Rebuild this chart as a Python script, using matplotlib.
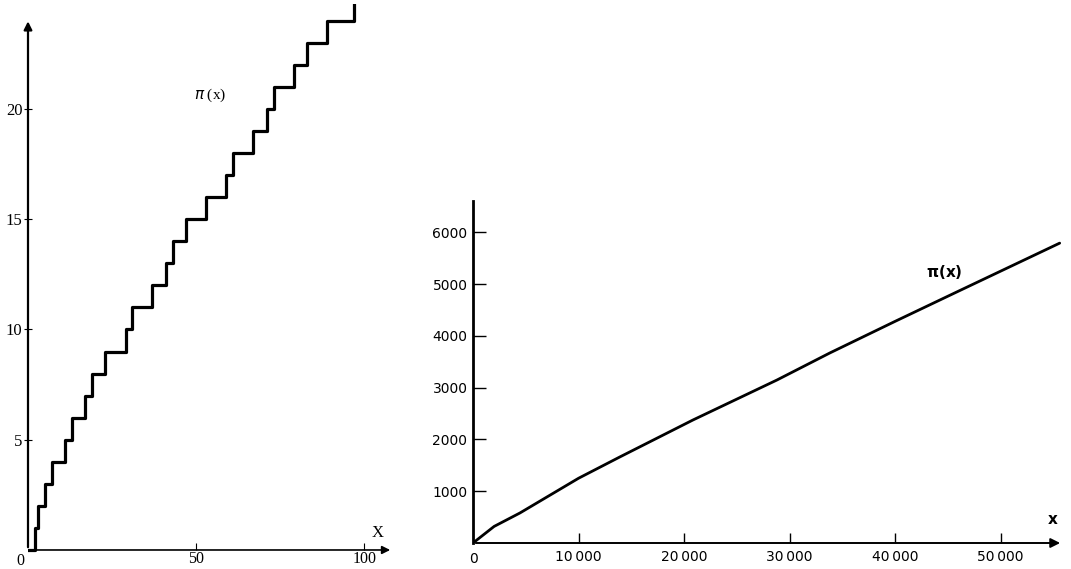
import matplotlib.pyplot as plt

# left panel: primes below 100 where pi(x) jumps
primes = [2, 3, 5, 7, 11, 13, 17, 19, 23, 29, 31, 37, 41, 43, 47,
          53, 59, 61, 67, 71, 73, 79, 83, 89, 97]
x_end = 97.5

# right panel: pi(x)
big_x = [0, 2000, 4450, 10000, 13900, 20830, 28800, 33800, 40000, 45830, 55590]
big_y = [0, 320, 580, 1250, 1660, 2374, 3147, 3668, 4280, 4846, 5790]

left_yticks = [5, 10, 15, 20]
left_xticks = [50, 100]
right_yticks = [1000, 2000, 3000, 4000, 5000, 6000]
right_xticks = [10000, 20000, 30000, 40000, 50000]

fig = plt.figure(figsize=(10.71, 5.69), dpi=100)

serif = ["Liberation Serif", "DejaVu Serif"]

# ---- left (22.05 px per unit, bottom at y=-0.3)
ax1 = fig.add_axes([28 / 1071, 12.4 / 569, 370 / 1071, 552.4 / 569])
ax1.set_xlim(0, 110)
ax1.set_ylim(-0.3, 24.75)
for s in ax1.spines.values():
    s.set_visible(False)
ax1.spines["bottom"].set_position(("data", 0))

xs = [0] + primes + [x_end]
ys = list(range(len(primes) + 1)) + [len(primes)]
ax1.step(xs, ys, where="post", color="black", lw=2.3)

ax1.annotate("", xy=(108.5, 0), xytext=(0, 0),
             arrowprops=dict(arrowstyle="-|>", color="black", lw=1.2, mutation_scale=12),
             annotation_clip=False)
ax1.annotate("", xy=(0, 24.1), xytext=(0, 0),
             arrowprops=dict(arrowstyle="-|>", color="black", lw=1.6, mutation_scale=12),
             annotation_clip=False)

ax1.set_xticks(left_xticks)
ax1.set_yticks(left_yticks)
ax1.set_xticklabels([str(v) for v in left_xticks], family=serif, fontsize=11.5)
ax1.set_yticklabels([str(v) for v in left_yticks], family=serif, fontsize=12)
ax1.tick_params(axis="x", direction="in", length=5, width=0.8, pad=1)
ax1.tick_params(axis="y", direction="inout", length=6, width=0.8, pad=1)
ax1.text(-2.4, -0.5, "0", family=serif, fontsize=11.5, ha="center", va="center")
ax1.text(104, 0.75, "X", family=serif, fontsize=12, ha="center", va="center")
ax1.text(54, 20.6, r"$\pi$ (x)", family=serif, fontsize=11, ha="center", va="center")

# ---- right
ax2 = fig.add_axes([473 / 1071, 26 / 569, 591 / 1071, 347 / 569])
ax2.set_xlim(0, 56000)
ax2.set_ylim(0, 6700)
for s in ax2.spines.values():
    s.set_visible(False)

ax2.plot(big_x, big_y, color="black", lw=2.0, solid_capstyle="round")

ax2.annotate("", xy=(55900, 0), xytext=(0, 0),
             arrowprops=dict(arrowstyle="-|>", color="black", lw=1.4, mutation_scale=14),
             annotation_clip=False)
ax2.plot([0, 0], [0, 6600], color="black", lw=2.0, clip_on=False)

ax2.set_xticks(right_xticks)
ax2.set_yticks(right_yticks)
ax2.set_xticklabels([f"{v // 1000}\u2009000" for v in right_xticks], fontsize=10)
ax2.set_yticklabels([str(v) for v in right_yticks], fontsize=10)
ax2.tick_params(axis="x", direction="in", length=7, width=1.0, pad=5)
ax2.tick_params(axis="y", direction="in", length=9, width=1.0, pad=4)
ax2.text(0, -170, "0", fontsize=10, ha="center", va="top")
ax2.text(54900, 300, "x", fontsize=11, fontweight="bold", ha="center", va="bottom")
ax2.text(44700, 5230, r"$\mathbf{\pi}$(x)", fontsize=11, fontweight="bold", ha="center", va="center")

fig.savefig("out.png", dpi=100)
